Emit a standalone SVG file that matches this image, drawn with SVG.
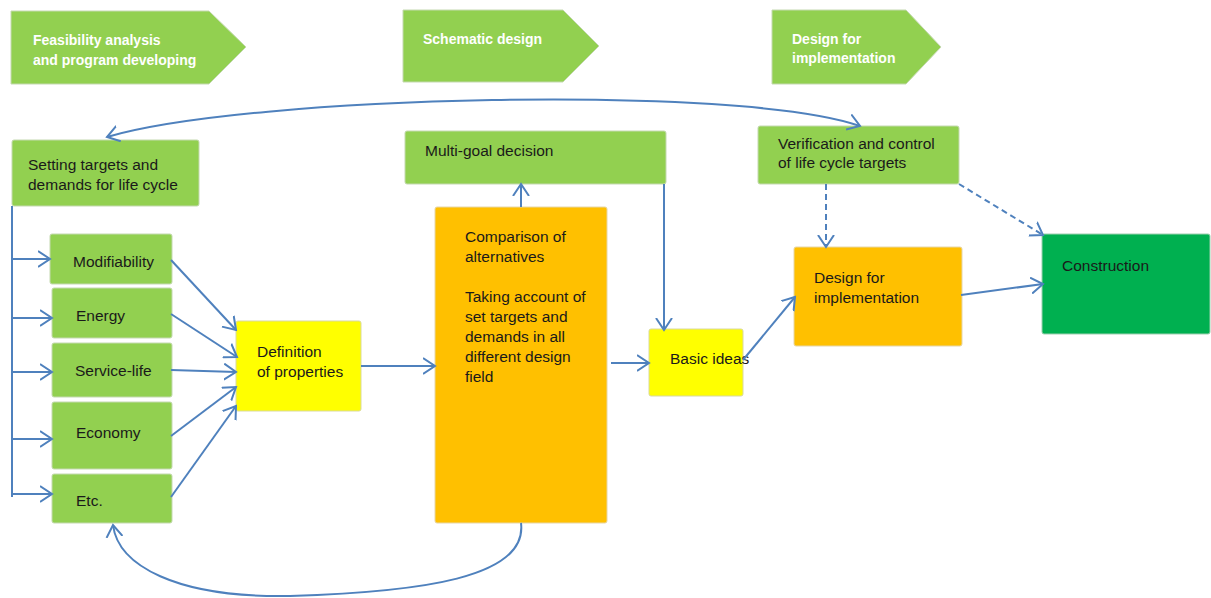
<svg xmlns="http://www.w3.org/2000/svg" width="1211" height="598" viewBox="0 0 1211 598">
<defs>
<style>
.green{fill:#92D050;stroke:#c4d9b0;stroke-width:1}
.orange{fill:#FFC000;stroke:#e6d6a8;stroke-width:1}
.yellow{fill:#FFFF00;stroke:#d9d9a0;stroke-width:1}
.dgreen{fill:#00B050;stroke:#9fcfb0;stroke-width:1}
.t{font-family:"Liberation Sans",Arial,sans-serif;font-size:15.5px;fill:#1a1a1a}
.bt{font-family:"Liberation Sans",Arial,sans-serif;font-size:14px;font-weight:bold;fill:#ffffff}
.c{fill:none;stroke:#4F81BD;stroke-width:2}
.d{stroke-dasharray:6 4}
</style>
<marker id="ah" viewBox="0 0 14 18" refX="12" refY="9" markerWidth="14" markerHeight="18" markerUnits="userSpaceOnUse" orient="auto-start-reverse">
<path d="M0,1 L12,9 L0,17" fill="none" stroke="#4F81BD" stroke-width="2"/>
</marker>
</defs>
<rect width="1211" height="598" fill="#ffffff"/>

<g id="banner-feasibility">
<polygon class="green" points="11,11 209,11 246,47 209,84 11,84"/>
<text class="bt" x="33" y="45">Feasibility analysis</text>
<text class="bt" x="33" y="65">and program developing</text>
</g>
<g id="banner-schematic">
<polygon class="green" points="403,10 563,10 599,46 563,82 403,82"/>
<text class="bt" x="423" y="44">Schematic design</text>
</g>
<g id="banner-implementation">
<polygon class="green" points="772,10 906,10 941,47 906,84 772,84"/>
<text class="bt" x="792" y="44">Design for</text>
<text class="bt" x="792" y="63">implementation</text>
</g>

<g id="setting-targets">
<rect class="green" x="12" y="140" width="187" height="66" rx="2"/>
<text class="t" x="28" y="170">Setting targets and</text>
<text class="t" x="28" y="190">demands for life cycle</text>
</g>
<g id="multi-goal">
<rect class="green" x="405" y="131" width="261" height="53" rx="2"/>
<text class="t" x="425" y="156">Multi-goal decision</text>
</g>
<g id="verification">
<rect class="green" x="758" y="126" width="201" height="58" rx="2"/>
<text class="t" x="778" y="149">Verification and control</text>
<text class="t" x="778" y="168">of life cycle targets</text>
</g>

<g id="modifiability">
<rect class="green" x="50" y="234" width="122" height="50" rx="2"/>
<text class="t" x="73" y="267">Modifiability</text>
</g>
<g id="energy">
<rect class="green" x="52" y="288" width="120" height="50" rx="2"/>
<text class="t" x="76" y="321">Energy</text>
</g>
<g id="service-life">
<rect class="green" x="52" y="343" width="120" height="54" rx="2"/>
<text class="t" x="75" y="376">Service-life</text>
</g>
<g id="economy">
<rect class="green" x="52" y="402" width="120" height="67" rx="2"/>
<text class="t" x="76" y="438">Economy</text>
</g>
<g id="etc">
<rect class="green" x="52" y="474" width="120" height="49" rx="2"/>
<text class="t" x="76" y="506">Etc.</text>
</g>

<g id="definition">
<rect class="yellow" x="236" y="321" width="125" height="90" rx="2"/>
<text class="t" x="257" y="357">Definition</text>
<text class="t" x="257" y="377">of properties</text>
</g>

<g id="comparison">
<rect class="orange" x="435" y="207" width="172" height="316" rx="2"/>
<text class="t" x="465" y="242">Comparison of</text>
<text class="t" x="465" y="262">alternatives</text>
<text class="t" x="465" y="302">Taking account of</text>
<text class="t" x="465" y="322">set targets and</text>
<text class="t" x="465" y="342">demands in all</text>
<text class="t" x="465" y="362">different design</text>
<text class="t" x="465" y="382">field</text>
</g>

<g id="basic-ideas">
<rect class="yellow" x="649" y="329" width="94" height="67" rx="2"/>
<text class="t" x="670" y="364">Basic ideas</text>
</g>

<g id="design-implementation">
<rect class="orange" x="794" y="247" width="168" height="99" rx="2"/>
<text class="t" x="814" y="283">Design for</text>
<text class="t" x="814" y="303">implementation</text>
</g>

<g id="construction">
<rect class="dgreen" x="1042" y="234" width="168" height="100" rx="2"/>
<text class="t" x="1062" y="271">Construction</text>
</g>

<g id="connectors">
<path class="c" d="M107,137 C250,95 740,84 860,126" marker-start="url(#ah)" marker-end="url(#ah)"/>
<path class="c" d="M12,206 L12,497"/>
<path class="c" d="M12,259 L50,259" marker-end="url(#ah)"/>
<path class="c" d="M12,318 L52,318" marker-end="url(#ah)"/>
<path class="c" d="M12,372 L52,372" marker-end="url(#ah)"/>
<path class="c" d="M12,439 L52,439" marker-end="url(#ah)"/>
<path class="c" d="M12,494 L52,494" marker-end="url(#ah)"/>
<path class="c" d="M171,260 L236,330" marker-end="url(#ah)"/>
<path class="c" d="M171,314 L237,357" marker-end="url(#ah)"/>
<path class="c" d="M171,370 L236,372" marker-end="url(#ah)"/>
<path class="c" d="M171,436 L236,387" marker-end="url(#ah)"/>
<path class="c" d="M171,497 L236,406" marker-end="url(#ah)"/>
<path class="c" d="M361,366 L435,366" marker-end="url(#ah)"/>
<path class="c" d="M521,207 L521,184" marker-end="url(#ah)"/>
<path class="c" d="M664,184 L664,330" marker-end="url(#ah)"/>
<path class="c" d="M611,363 L649,363" marker-end="url(#ah)"/>
<path class="c" d="M743,360 L795,297" marker-end="url(#ah)"/>
<path class="c" d="M961,295 L1043,284" marker-end="url(#ah)"/>
<path class="c d" d="M826,184 L826,247" marker-end="url(#ah)"/>
<path class="c d" d="M959,184 L1043,235" marker-end="url(#ah)"/>
<path class="c" d="M521,523 C528,578 420,592 290,596 C175,598 118,565 113,525" marker-end="url(#ah)"/>
</g>
</svg>
